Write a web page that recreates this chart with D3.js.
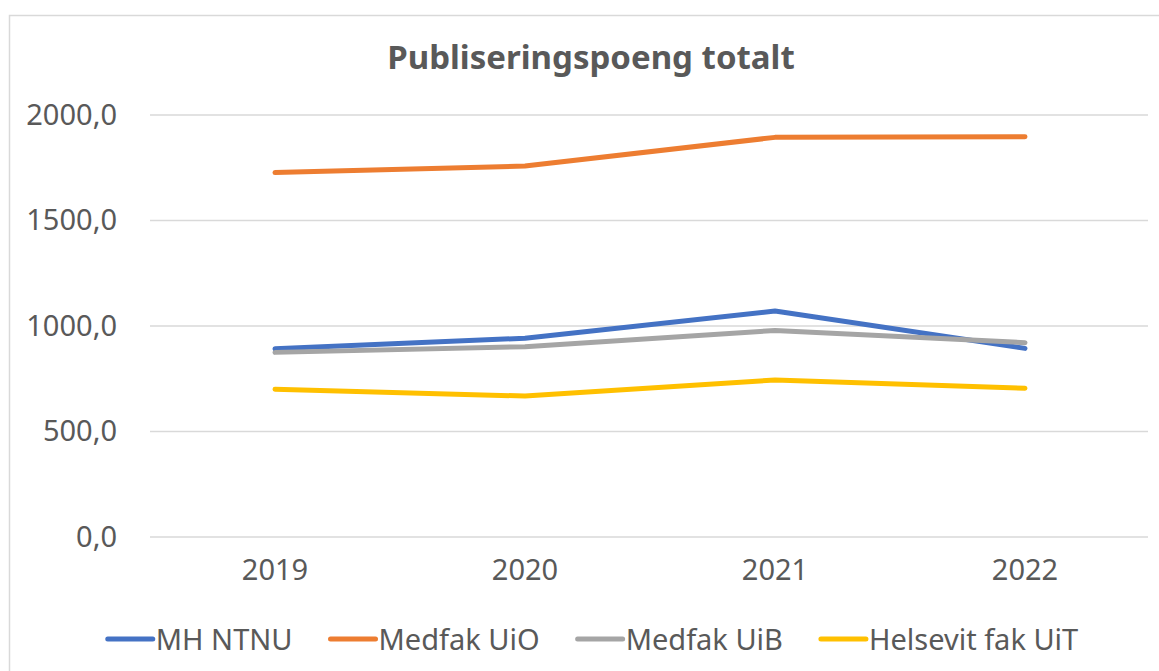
<!DOCTYPE html>
<html>
<head>
<meta charset="utf-8">
<script src="https://cdn.jsdelivr.net/npm/d3@7"></script>
<style>
  body { margin: 0; background: #fff; }
  svg { display: block; font-family: "Noto Sans", sans-serif; }
</style>
</head>
<body>
<svg id="chart" width="1159" height="671"></svg>
<script>
// Data
const years = ["2019", "2020", "2021", "2022"];
const seriesNames = ["MH NTNU", "Medfak UiO", "Medfak UiB", "Helsevit fak UiT"];
const mhNtnu = [892, 942, 1071, 894];
const medfakUio = [1727, 1758, 1894, 1897];
const medfakUib = [875, 902, 979, 921];
const helsevitUit = [700, 668, 744, 705];
const yTicks = [0, 500, 1000, 1500, 2000];
const colors = ["#4472C4", "#ED7D31", "#A5A5A5", "#FFC000"];

const series = [mhNtnu, medfakUio, medfakUib, helsevitUit].map((vals, i) => ({
    name: seriesNames[i],
    color: colors[i],
    values: vals.map((v, j) => ({ year: years[j], value: v }))
}));

const svg = d3.select("#chart");
const textColor = "#595959";

// Chart frame
svg.append("rect")
    .attr("x", 9.5).attr("y", 15.5)
    .attr("width", 1170).attr("height", 700)
    .attr("fill", "none")
    .attr("stroke", "#d9d9d9")
    .attr("stroke-width", 1.5);

// Scales
const x = d3.scaleBand().domain(years).range([150, 1150]);
const y = d3.scaleLinear().domain([0, 2000]).range([537, 115]);

// Title
svg.append("text")
    .attr("x", 591).attr("y", 69)
    .attr("text-anchor", "middle")
    .attr("fill", textColor)
    .style("font-size", "33px")
    .style("font-weight", "bold")
    .text("Publiseringspoeng totalt");

// Gridlines
svg.append("g")
    .selectAll("line")
    .data(yTicks)
    .join("line")
    .attr("x1", 150).attr("x2", 1148)
    .attr("y1", d => y(d)).attr("y2", d => y(d))
    .attr("stroke", "#d9d9d9")
    .attr("stroke-width", 1.5);

// Y axis labels
const fmt = d => d3.format(".1f")(d).replace(".", ",");
const yAxis = svg.append("g")
    .attr("transform", "translate(150,0)")
    .call(d3.axisLeft(y).tickValues(yTicks).tickFormat(fmt).tickSize(0).tickPadding(33));
yAxis.select(".domain").remove();
yAxis.selectAll("text")
    .attr("fill", textColor)
    .style("font-family", "'Noto Sans', sans-serif")
    .style("font-size", "29px");

// X axis labels
const xAxis = svg.append("g")
    .attr("transform", "translate(0,537)")
    .call(d3.axisBottom(x).tickSize(0).tickPadding(22));
xAxis.select(".domain").remove();
xAxis.selectAll("text")
    .attr("fill", textColor)
    .style("font-family", "'Noto Sans', sans-serif")
    .style("font-size", "29px");

// Lines
const line = d3.line()
    .x(d => x(d.year) + x.bandwidth() / 2)
    .y(d => y(d.value));

svg.append("g")
    .selectAll("path")
    .data(series)
    .join("path")
    .attr("d", d => line(d.values))
    .attr("fill", "none")
    .attr("stroke", d => d.color)
    .attr("stroke-width", 5)
    .attr("stroke-linecap", "round")
    .attr("stroke-linejoin", "round");

// Legend
const legend = svg.append("g");
const swatchW = 45, textGap = 3, itemGap = 38;
let cursor = 0;
series.forEach(s => {
    const item = legend.append("g").attr("transform", `translate(${cursor},0)`);
    item.append("line")
        .attr("x1", 0).attr("x2", swatchW)
        .attr("y1", 0).attr("y2", 0)
        .attr("stroke", s.color)
        .attr("stroke-width", 5)
        .attr("stroke-linecap", "round");
    const t = item.append("text")
        .attr("x", swatchW + textGap)
        .attr("y", 11)
        .attr("fill", textColor)
        .style("font-size", "29px")
        .text(s.name);
    cursor += swatchW + textGap + t.node().getComputedTextLength() + itemGap;
});
const legendW = cursor - itemGap;
legend.attr("transform", `translate(${593 - legendW / 2},639)`);
</script>
</body>
</html>
